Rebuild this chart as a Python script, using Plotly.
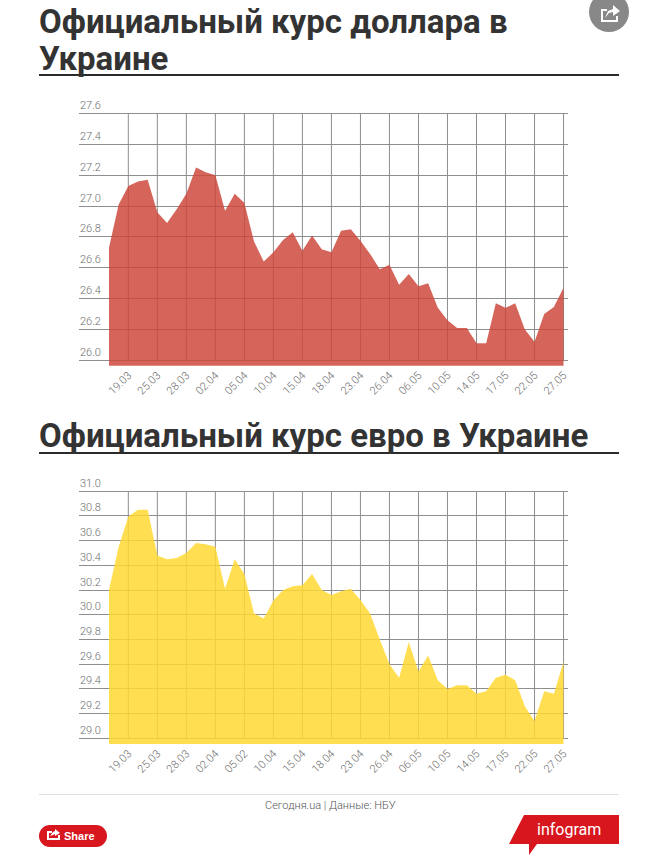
import plotly.graph_objects as go

W, H = 647, 859

usd = [26.73, 27.01, 27.13, 27.16, 27.17, 26.96, 26.89, 26.98, 27.08, 27.25, 27.22, 27.20,
       26.97, 27.08, 27.02, 26.77, 26.64, 26.70, 26.78, 26.83, 26.71, 26.81, 26.72, 26.70,
       26.84, 26.85, 26.775, 26.69, 26.59, 26.62, 26.49, 26.56, 26.48, 26.50, 26.34, 26.26,
       26.21, 26.21, 26.11, 26.11, 26.37, 26.34, 26.37, 26.20, 26.12, 26.30, 26.345, 26.47]
eur = [30.20, 30.55, 30.795, 30.85, 30.85, 30.48, 30.45, 30.46, 30.50, 30.58, 30.57, 30.55,
       30.21, 30.45, 30.33, 30.01, 29.97, 30.115, 30.20, 30.23, 30.24, 30.33, 30.20, 30.16,
       30.19, 30.21, 30.12, 30.01, 29.80, 29.60, 29.49, 29.78, 29.54, 29.67, 29.47, 29.40,
       29.43, 29.43, 29.36, 29.38, 29.49, 29.515, 29.47, 29.26, 29.14, 29.38, 29.36, 29.62]
tick_pos = [2, 5, 8, 11, 14, 17, 20, 23, 26, 29, 32, 35, 38, 41, 44, 47]
usd_ticks = ["19.03", "25.03", "28.03", "02.04", "05.04", "10.04", "15.04", "18.04",
             "23.04", "26.04", "06.05", "10.05", "14.05", "17.05", "22.05", "27.05"]
eur_ticks = ["19.03", "25.03", "28.03", "02.04", "05.02", "10.04", "15.04", "18.04",
             "23.04", "26.04", "06.05", "10.05", "14.05", "17.05", "22.05", "27.05"]
usd_y = [26.0, 26.2, 26.4, 26.6, 26.8, 27.0, 27.2, 27.4, 27.6]
eur_y = [29.0, 29.2, 29.4, 29.6, 29.8, 30.0, 30.2, 30.4, 30.6, 30.8, 31.0]
title_1a = "Официальный курс доллара в"
title_1b = "Украине"
title_2 = "Официальный курс евро в Украине"
footer = "Сегодня.ua | Данные: НБУ"

NARROW = "Roboto"
GRID = "#8e8e8e"
LABEL = "#6e6e6e"
XW = 645


def px(x):
    return x / XW


def py(y):
    return 1 - y / H


fig = go.Figure()


def add_chart(suffix, values, ticks, yvals, fill, top_px, bottom_px, y_bottom):
    xa = "xaxis" + suffix
    ya = "yaxis" + suffix
    vx, vy = [], []
    for t in tick_pos:
        vx += [t, t, None]
        vy += [yvals[0], yvals[-1], None]
    fig.add_trace(go.Scatter(x=vx, y=vy, mode="lines", line=dict(color=GRID, width=1),
                             hoverinfo="skip", showlegend=False, xaxis="x" + suffix, yaxis="y" + suffix))
    fig.add_trace(go.Scatter(x=list(range(len(values))), y=values, mode="lines",
                             line=dict(width=0), fill="tozeroy", fillcolor=fill,
                             showlegend=False, xaxis="x" + suffix, yaxis="y" + suffix))
    fig.layout[xa] = dict(domain=[px(79), px(567.7)], range=[-3.1, 47.43], anchor="y" + suffix,
                          tickmode="array", tickvals=tick_pos, ticktext=ticks, tickangle=-45,
                          showgrid=False, zeroline=False, showline=False, ticks="",
                          tickfont=dict(family=NARROW, size=11, color=LABEL, weight=300))
    # the top of the range sits a hair above the last tick so its gridline is still drawn
    fig.layout[ya] = dict(domain=[py(bottom_px), py(top_px)], range=[y_bottom, yvals[-1] + 0.01], anchor="x" + suffix,
                          tickmode="array", tickvals=yvals, showticklabels=False,
                          showgrid=True, gridcolor=GRID, gridwidth=1, zeroline=False, showline=False, ticks="")
    for v in yvals:
        fig.add_annotation(xref="paper", yref="y" + suffix, x=px(79), y=v, text=f"{v:.1f}",
                           showarrow=False, xanchor="left", yanchor="bottom", yshift=0.5, borderpad=0,
                           font=dict(family=NARROW, size=11, color=LABEL, weight=300))


add_chart("", usd, usd_ticks, usd_y, "rgba(204,70,58,0.83)", 112, 365.7, 25.965)
add_chart("2", eur, eur_ticks, eur_y, "rgba(255,217,50,0.85)", 490, 744.0, 28.954)


def text(x, y, s, size, color, family=NARROW, anchor="left", bold=False, yanchor="middle", weight=None):
    f = dict(family=family, size=size, color=color)
    if weight:
        f["weight"] = weight
    fig.add_annotation(xref="paper", yref="paper", x=px(x), y=py(y), text=f"<b>{s}</b>" if bold else s,
                       showarrow=False, xanchor=anchor, yanchor=yanchor, align="left",
                       borderpad=0, borderwidth=0, font=f)


text(39, 22, title_1a, 33, "#333333", bold=True)
text(39, 58, title_1b, 33, "#333333", bold=True)
text(39, 435, title_2, 33, "#333333", bold=True)
text(330, 805, footer, 11, "#555555", anchor="center", weight=300)
text(64, 836, "Share", 11, "#ffffff", family="Liberation Sans", bold=True)
text(569, 829, "infogram", 16, "#ffffff", anchor="center")


def rect_line(x0, x1, y, color, w):
    fig.add_shape(type="line", xref="paper", yref="paper", x0=px(x0), x1=px(x1), y0=py(y), y1=py(y),
                  line=dict(color=color, width=w))


def path(points, color):
    d = "M " + " L ".join(f"{px(a)},{py(b)}" for a, b in points) + " Z"
    fig.add_shape(type="path", xref="paper", yref="paper", path=d, fillcolor=color,
                  line=dict(width=0, color=color))


rect_line(39, 619, 75, "#2b2b2b", 2)
rect_line(39, 619, 453, "#2b2b2b", 2)
rect_line(39, 619, 794.5, "#e0e0e0", 1)

fig.add_shape(type="circle", xref="paper", yref="paper", x0=px(589), x1=px(629), y0=py(32), y1=py(-8),
              fillcolor="#888888", line=dict(width=0))
for x0, x1 in [(39, 61), (85, 107)]:
    fig.add_shape(type="circle", xref="paper", yref="paper", x0=px(x0), x1=px(x1), y0=py(847), y1=py(825),
                  fillcolor="#d8161d", line=dict(width=0))
fig.add_shape(type="rect", xref="paper", yref="paper", x0=px(50), x1=px(96), y0=py(847), y1=py(825),
              fillcolor="#d8161d", line=dict(width=0))
path([(47, 831), (52, 831), (52, 833), (49, 833), (49, 838), (58, 838), (58, 835), (60, 835), (60, 840), (47, 840)], "#ffffff")
path([(50, 836), (53, 832), (55, 831), (55, 829), (60, 833), (55, 836), (55, 834), (53, 835)], "#ffffff")
path([(601, 9), (607, 9), (607, 11), (603, 11), (603, 20), (616, 20), (616, 16), (618, 16), (618, 22), (601, 22)], "#ffffff")
path([(605, 18), (608, 11), (613, 9), (613, 5), (620, 11), (613, 16), (613, 12), (609, 13)], "#ffffff")
path([(524, 815), (619, 815), (619, 844), (537, 844), (529, 855), (529, 844), (509, 844)], "#d8161d")

fig.update_layout(width=W, height=H, margin=dict(l=0, r=0, t=0, b=0), showlegend=False,
                  paper_bgcolor="white", plot_bgcolor="white", hovermode=False)
fig.write_html("out.html", post_script="document.body.style.margin='0';document.body.style.overflow='hidden';",
               config={"displayModeBar": False})
